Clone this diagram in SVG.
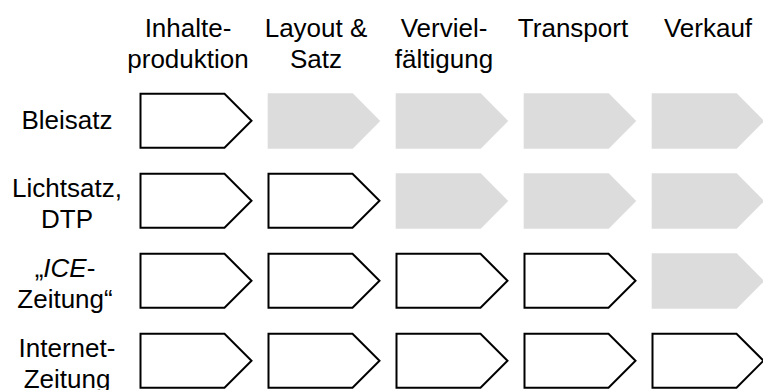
<svg xmlns="http://www.w3.org/2000/svg" width="763" height="390" viewBox="0 0 763 390">
  <style>
    text { font-family: "Liberation Sans", Arial, sans-serif; font-size: 26px; fill: #000; text-anchor: middle; }
    .on { fill: #fff; stroke: #000; stroke-width: 2; stroke-linejoin: miter; }
    .off { fill: #dcdcdc; stroke: none; }
  </style>
  <defs>
    <path id="chevOn" d="M0,0 H84 L111,27 L84,54 H0 Z"/>
    <path id="chevOff" d="M0,0 H85 L112.5,27.7 L85,55.4 H0 Z"/>
  </defs>
  <rect width="763" height="390" fill="#fff"/>

  <g id="headers">
    <text x="188" y="36.5">Inhalte-</text>
    <text x="188" y="67.5">produktion</text>
    <text x="316" y="36.5">Layout &amp;</text>
    <text x="316" y="67.5">Satz</text>
    <text x="444" y="36.5">Verviel-</text>
    <text x="444" y="67.5">fältigung</text>
    <text x="573" y="36.5">Transport</text>
    <text x="708" y="36.5">Verkauf</text>
  </g>

  <g id="row-labels">
    <text x="67" y="129.3">Bleisatz</text>
    <text x="67" y="196.7">Lichtsatz,</text>
    <text x="67" y="228.3">DTP</text>
    <text x="65" y="276.7">„<tspan font-style="italic">ICE</tspan>-</text>
    <text x="65" y="308.3">Zeitung“</text>
    <text x="67" y="356.7">Internet-</text>
    <text x="67" y="388.3">Zeitung</text>
  </g>

  <g id="row-bleisatz">
    <g id="n-1-1"><use href="#chevOn" class="on" x="140.5" y="93.7"/></g>
    <g id="n-1-2"><use href="#chevOff" class="off" x="267.7" y="93.3"/></g>
    <g id="n-1-3"><use href="#chevOff" class="off" x="395.7" y="93.3"/></g>
    <g id="n-1-4"><use href="#chevOff" class="off" x="523.7" y="93.3"/></g>
    <g id="n-1-5"><use href="#chevOff" class="off" x="651.7" y="93.3"/></g>
  </g>
  <g id="row-lichtsatz">
    <g id="n-2-1"><use href="#chevOn" class="on" x="140.5" y="173.7"/></g>
    <g id="n-2-2"><use href="#chevOn" class="on" x="268.5" y="173.7"/></g>
    <g id="n-2-3"><use href="#chevOff" class="off" x="395.7" y="173.3"/></g>
    <g id="n-2-4"><use href="#chevOff" class="off" x="523.7" y="173.3"/></g>
    <g id="n-2-5"><use href="#chevOff" class="off" x="651.7" y="173.3"/></g>
  </g>
  <g id="row-ice">
    <g id="n-3-1"><use href="#chevOn" class="on" x="140.5" y="253.7"/></g>
    <g id="n-3-2"><use href="#chevOn" class="on" x="268.5" y="253.7"/></g>
    <g id="n-3-3"><use href="#chevOn" class="on" x="396.5" y="253.7"/></g>
    <g id="n-3-4"><use href="#chevOn" class="on" x="524.5" y="253.7"/></g>
    <g id="n-3-5"><use href="#chevOff" class="off" x="651.7" y="253.3"/></g>
  </g>
  <g id="row-internet">
    <g id="n-4-1"><use href="#chevOn" class="on" x="140.5" y="333.7"/></g>
    <g id="n-4-2"><use href="#chevOn" class="on" x="268.5" y="333.7"/></g>
    <g id="n-4-3"><use href="#chevOn" class="on" x="396.5" y="333.7"/></g>
    <g id="n-4-4"><use href="#chevOn" class="on" x="524.5" y="333.7"/></g>
    <g id="n-4-5"><use href="#chevOn" class="on" x="652.5" y="333.7"/></g>
  </g>
  <g id="connectors"/>
</svg>
